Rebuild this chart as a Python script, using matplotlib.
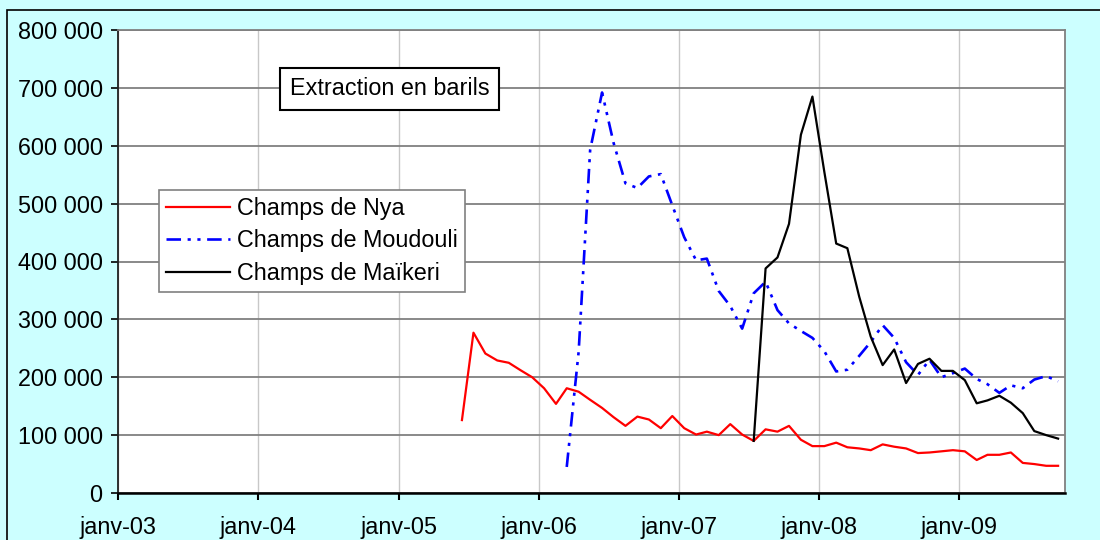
import matplotlib
matplotlib.use("Agg")
import matplotlib.pyplot as plt
from matplotlib.patches import Rectangle
import pandas as pd

plt.rcParams["font.family"] = ["Liberation Sans", "DejaVu Sans"]

# monthly extraction in barrels
nya = [126000, 277000, 241000, 229000, 225000, 212000, 200000,
       181000, 154000, 181000, 175000, 161000, 147000, 131000, 116000, 132000, 127000, 112000, 133000,
       112000, 101000, 106000, 100000, 119000, 101000, 90000, 110000, 106000, 116000, 92000, 81000,
       81000, 87000, 79000, 77000, 74000, 84000, 80000, 77000, 69000, 70000, 72000, 74000,
       72000, 57000, 66000, 66000, 70000, 52000, 50000, 47000, 47000]
moudouli = [45000, 244000, 593000, 692000, 605000, 535000, 527000, 547000, 551000, 497000,
            442000, 402000, 405000, 349000, 323000, 284000, 345000, 365000, 316000, 293000, 280000, 268000,
            245000, 210000, 213000, 237000, 261000, 290000, 268000, 226000, 204000, 230000, 200000, 207000,
            215000, 197000, 188000, 173000, 186000, 181000, 196000, 202000, 193000]
maikeri = [90000, 388000, 407000, 465000, 619000, 685000,
           555000, 431000, 423000, 339000, 270000, 221000, 248000, 190000, 223000, 232000, 211000, 211000,
           195000, 155000, 160000, 168000, 156000, 138000, 107000, 100000, 94000]

nya_start = "2005-06"
moudouli_start = "2006-03"
maikeri_start = "2007-07"

series_names = ["Champs de Nya", "Champs de Moudouli", "Champs de Maïkeri"]
year_ticks = ["2003-01-01", "2004-01-01", "2005-01-01", "2006-01-01",
              "2007-01-01", "2008-01-01", "2009-01-01"]
year_labels = ["janv-03", "janv-04", "janv-05", "janv-06", "janv-07", "janv-08", "janv-09"]
y_ticks = [0, 100000, 200000, 300000, 400000, 500000, 600000, 700000, 800000]
y_labels = ["0", "100 000", "200 000", "300 000", "400 000", "500 000",
            "600 000", "700 000", "800 000"]
title = "Extraction en barils"


def months(start, n):
    # points sit mid-month
    return pd.date_range(start + "-01", periods=n, freq="MS") + pd.Timedelta(days=14)


W, H = 1100, 540
fig = plt.figure(figsize=(W / 100, H / 100), dpi=100)
fig.patch.set_facecolor("#CCFFFF")
fig.patches.append(Rectangle((7 / W, -0.1), 1.2, 1.1 - 10 / H, transform=fig.transFigure,
                             fill=False, edgecolor="black", linewidth=1.2))

ax = fig.add_axes([118 / W, 1 - 493 / H, (1065 - 118) / W, (493 - 30) / H])
ax.set_facecolor("white")

fs = 16.8
l1, = ax.plot(months(nya_start, len(nya)), nya, color="#FF0000", lw=1.6)
l2, = ax.plot(months(moudouli_start, len(moudouli)), moudouli, color="#0000FF", lw=1.9,
              dashes=(5.5, 2.5, 1.2, 2.5, 1.2, 2.5))
l3, = ax.plot(months(maikeri_start, len(maikeri)), maikeri, color="black", lw=1.6)

ax.set_xlim(pd.Timestamp("2003-01-01"), pd.Timestamp("2009-10-03"))
ax.set_ylim(0, 800000)
ax.set_xticks(pd.to_datetime(year_ticks))
ax.set_xticklabels(year_labels, fontsize=fs)
ax.set_yticks(y_ticks)
ax.set_yticklabels(y_labels, fontsize=fs)
ax.tick_params(axis="x", length=5, width=1.5, pad=11.5, direction="out")
ax.tick_params(axis="y", length=5, width=1.2, pad=6, direction="out")

ax.yaxis.grid(True, color="#808080", lw=1.3)
ax.xaxis.grid(True, color="#C8C8C8", lw=1)
ax.set_axisbelow(True)

for side in ["top", "right"]:
    ax.spines[side].set_color("#808080")
    ax.spines[side].set_linewidth(1.3)
ax.spines["left"].set_color("#202020")
ax.spines["left"].set_linewidth(1.3)
ax.spines["bottom"].set_color("black")
ax.spines["bottom"].set_linewidth(1.8)

leg = ax.legend([l1, l2, l3], series_names, loc="upper left",
                bbox_to_anchor=(159 / W, 1 - 190 / H), bbox_transform=fig.transFigure,
                borderaxespad=0, fontsize=fs, frameon=True, fancybox=False,
                handlelength=2.75, handletextpad=0.3, labelspacing=0.4,
                borderpad=0.3)
leg.get_frame().set_edgecolor("#808080")
leg.get_frame().set_linewidth(1.2)
leg.get_frame().set_facecolor("white")
leg.get_frame().set_alpha(1)

fig.text(389.5 / W, 1 - 89 / H, title, fontsize=fs, ha="center", va="center",
         bbox=dict(boxstyle="square,pad=0.4", facecolor="white", edgecolor="black", linewidth=1.5))

fig.savefig("out.png", dpi=100, facecolor=fig.get_facecolor())
